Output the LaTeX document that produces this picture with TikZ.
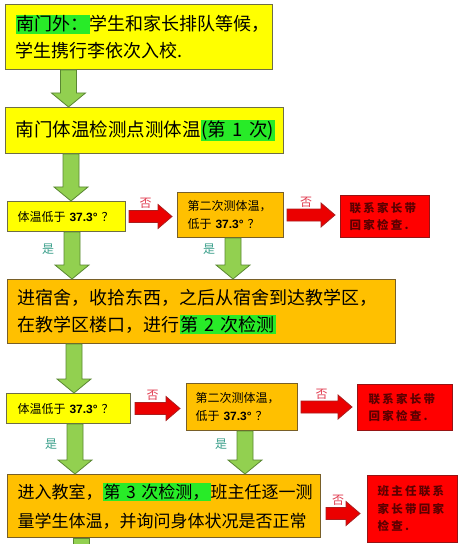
\documentclass[tikz,border=0pt]{standalone}
\usepackage{fontspec}
\usetikzlibrary{calc}
\newfontfamily\cjk{Noto Sans CJK SC}
\newfontfamily\cjksp[LetterSpace=20]{Noto Sans CJK SC}
\newfontfamily\lib{Liberation Sans}
\definecolor{boxyellow}{RGB}{255,255,0}
\definecolor{yellowline}{RGB}{110,110,70}
\definecolor{boxorange}{RGB}{255,192,0}
\definecolor{orangeline}{RGB}{120,95,40}
\definecolor{boxred}{RGB}{255,0,0}
\definecolor{redline}{RGB}{150,20,20}
\definecolor{darkred}{RGB}{90,0,0}
\definecolor{hlgreen}{RGB}{40,235,40}
\definecolor{arrgreen}{RGB}{146,208,80}
\definecolor{arrgreenline}{RGB}{90,135,50}
\definecolor{arrred}{RGB}{235,0,0}
\definecolor{arrredline}{RGB}{170,30,30}
\definecolor{notext}{RGB}{225,60,80}
\definecolor{yestext}{RGB}{60,160,140}
\newcommand{\tnum}[1]{{\lib\bfseries #1}}
\newcommand{\hlg}[1]{{\setlength{\fboxsep}{1.2bp}\colorbox{hlgreen}{#1}}}
% fat arrows: start, end, optional label
\newcommand{\garrow}[3][]{%
  \path[garr] let \p1=#2, \p2=#3 in
    (\x1-8bp,\y1) -- (\x1+8bp,\y1) -- (\x1+8bp,\y2+14bp) -- (\x1+17bp,\y2+14bp)
    -- (\x1,\y2) -- (\x1-17bp,\y2+14bp) -- (\x1-8bp,\y2+14bp) -- cycle;%
  \if\relax\detokenize{#1}\relax\else
    \path let \p2=#3 in node[yeslabel] at (\x2-24bp,\y2+30bp) {#1};%
  \fi}
\newcommand{\rarrow}[3]{%
  \path[rarr] let \p1=#1, \p2=#2 in
    (\x1,\y1+6bp) -- (\x2-14bp,\y1+6bp) -- (\x2-14bp,\y1+12bp) -- (\x2,\y1)
    -- (\x2-14bp,\y1-12bp) -- (\x2-14bp,\y1-6bp) -- (\x1,\y1-6bp) -- cycle
    node[nolabel] at ({(\x1+\x2)/2-5bp},{\y1+13bp}) {#3};}
\tikzset{
  box/.style={draw, line width=1bp, anchor=north west, inner xsep=0pt,
    inner ysep=2bp, align=left},
  ybox/.style={box, fill=boxyellow, draw=yellowline},
  obox/.style={box, fill=boxorange, draw=orangeline},
  rbox/.style={box, fill=boxred, draw=redline, text=darkred,
    font=\cjksp\bfseries\fontsize{11.5bp}{17.5bp}\selectfont},
  bigtext/.style={font=\cjk\fontsize{18bp}{27bp}\selectfont},
  smalltext/.style={font=\cjk\fontsize{12bp}{18bp}\selectfont},
  garr/.style={fill=arrgreen, draw=arrgreenline, line width=0.8bp},
  rarr/.style={fill=arrred, draw=arrredline, line width=0.8bp},
  nolabel/.style={text=notext, font=\cjk\fontsize{12bp}{14bp}\selectfont},
  yeslabel/.style={text=yestext, font=\cjk\fontsize{12bp}{14bp}\selectfont}
}
\begin{document}
\begin{tikzpicture}[x=1bp, y=-1bp]
  \path[fill=white, use as bounding box] (0,0) rectangle (464,544);
  % columns of the down arrows
  \coordinate (c1) at (68.5,0);
  \coordinate (c2) at (71,0);
  \coordinate (c3) at (72,0);
  \coordinate (c4) at (233,0);
  \coordinate (c5) at (74,0);
  \coordinate (c6) at (75,0);
  \coordinate (c7) at (245,0);
  \coordinate (c8) at (81,0);
  \coordinate (bot) at (0,548);
  % south gate
  \node[ybox, bigtext, minimum width=267bp, minimum height=65bp, text width=247bp] (top) at (5,4)
    {\hlg{南门外：}学生和家长排队等候，\\学生携行李依次入校.};
  \node[ybox, bigtext, font=\cjk\fontsize{18.5bp}{27bp}\selectfont, minimum width=278bp,
    minimum height=46bp, text width=258bp] (ck1) at (5,107)
    {南门体温检测点测体温\hlg{(第 1 次)}};
  % first check
  \node[ybox, smalltext, minimum width=118bp, minimum height=30bp, text width=98bp] (q1a) at (7,201)
    {体温低于 \tnum{37.3°} ？};
  \node[obox, smalltext, minimum width=106bp, minimum height=45bp, text width=86bp] (q1b) at (177,192)
    {第二次测体温，\\低于 \tnum{37.3°} ？};
  \node[rbox, minimum width=89bp, minimum height=42bp, text width=71bp] (home1) at (340,195)
    {联系家长带\\回家检查.};
  % dormitory
  \node[obox, bigtext, minimum width=388bp, minimum height=64bp, text width=368bp] (dorm) at (7,279)
    {进宿舍，收拾东西，之后从宿舍到达教学区，\\在教学区楼口，进行\hlg{第 2 次检测}};
  % second check
  \node[ybox, smalltext, minimum width=124bp, minimum height=30bp, text width=102bp] (q2a) at (6,393)
    {体温低于 \tnum{37.3°} ？};
  \node[obox, smalltext, minimum width=111bp, minimum height=47bp, text width=93bp] (q2b) at (186,383)
    {第二次测体温，\\低于 \tnum{37.3°} ？};
  \node[rbox, minimum width=95bp, minimum height=46bp, text width=73bp] (home2) at (357,384)
    {联系家长带\\回家检查.};
  % classroom
  \node[obox, font=\cjk\fontsize{17bp}{29bp}\selectfont, minimum width=313bp, minimum height=63bp,
    text width=293bp] (cls) at (7,474)
    {进入教室，\hlg{第 3 次检测，}班主任逐一测\\量学生体温，并询问身体状况是否正常};
  \node[rbox, minimum width=90bp, minimum height=67bp, text width=70bp] (home3) at (367,475)
    {班主任联系\\家长带回家\\检查.};
  % down arrows
  \garrow{(c1 |- top.south)}{(c1 |- ck1.north)}
  \garrow{(c2 |- ck1.south)}{(c2 |- q1a.north)}
  \garrow[是]{(c3 |- q1a.south)}{(c3 |- dorm.north)}
  \garrow[是]{(c4 |- q1b.south)}{(c4 |- dorm.north)}
  \garrow{(c5 |- dorm.south)}{(c5 |- q2a.north)}
  \garrow[是]{(c6 |- q2a.south)}{(c6 |- cls.north)}
  \garrow[是]{(c7 |- q2b.south)}{(c7 |- cls.north)}
  \path[garr] let \p1=(c8 |- cls.south), \p2=(c8 |- bot) in
    (\x1-8bp,\y1) rectangle (\x1+8bp,\y2);
  % right arrows
  \rarrow{([xshift=3bp]q1a.east)}{([xshift=-5bp]q1b.west)}{否}
  \rarrow{([xshift=3bp]q1b.east)}{([xshift=-5bp]home1.west)}{否}
  \rarrow{([xshift=4bp]q2a.east)}{([xshift=-6bp]q2b.west)}{否}
  \rarrow{([xshift=3bp]q2b.east)}{([xshift=-5bp]home2.west)}{否}
  \rarrow{([shift={(5bp,-7.5bp)}]cls.east)}{([xshift=-7bp]home3.west)}{否}
\end{tikzpicture}
\end{document}
